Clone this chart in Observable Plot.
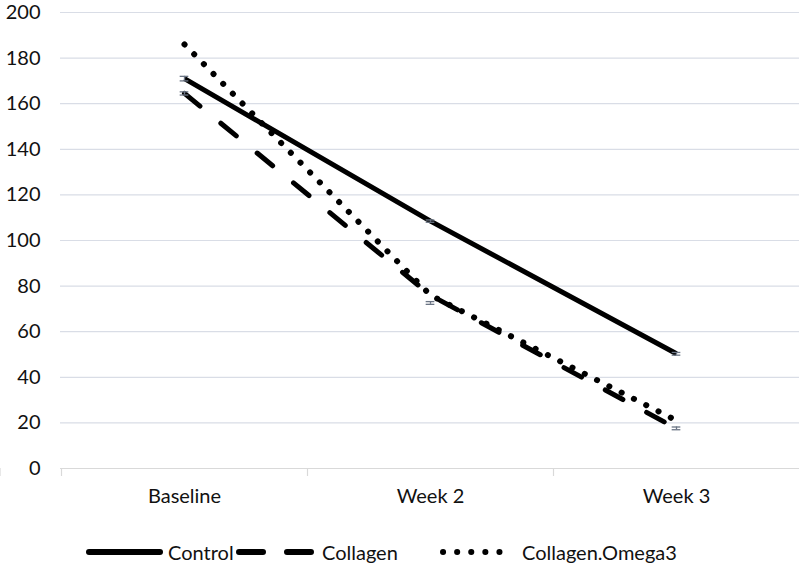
<!DOCTYPE html>
<html><head><meta charset="utf-8">
<script src="https://cdn.jsdelivr.net/npm/d3@7"></script>
<script src="https://cdn.jsdelivr.net/npm/@observablehq/plot@0.6"></script>
<style>
body{margin:0;background:#fff;font-family:Lato,"Open Sans",sans-serif;}
#legend{position:relative;height:44px;font-size:20px;color:#111;}
#legend .item{display:flex;align-items:center;position:absolute;top:0;height:44px;}
</style></head>
<body>
<div id="chart"></div>
<div id="legend"></div>
<script>
const categories = ["Baseline", "Week 2", "Week 3"];
const seriesNames = ["Control", "Collagen", "Collagen.Omega3"];
const controlValues = [171, 108.5, 50.3];
const collagenValues = [164.5, 76, 17.5];
const omegaValues = [186, 76, 21];
const errLow = [[170, 108, 49.7], [163.8, 72, 17], [null, null, null]];
const errHigh = [[172, 109, 50.9], [165.2, 73.2, 18.2], [null, null, null]];
const yTicks = [0, 20, 40, 60, 80, 100, 120, 140, 160, 180, 200];

const seriesValues = [controlValues, collagenValues, omegaValues];
const data = [];
seriesNames.forEach((s, i) => categories.forEach((c, j) => data.push({series: s, cat: c, value: seriesValues[i][j]})));
const errData = [];
seriesNames.forEach((s, i) => categories.forEach((c, j) => {
  if (errLow[i][j] != null) errData.push({series: s, cat: c, lo: errLow[i][j], hi: errHigh[i][j]});
}));

const W = 799, H = 530, ML = 60, MR = 0;
const bw = (W - ML - MR) / categories.length;
const dash = {"Control": null, "Collagen": "20 27", "Collagen.Omega3": "0.1 13.7"};
const errColor = "#6b7585";

const boundaryTicks = (index, scales, values, dimensions) => {
  const g = d3.create("svg:g");
  const bandW = scales.x.bandwidth ? scales.x.bandwidth : bw;
  const y0 = scales.y(0);
  const xs = categories.map(c => scales.x(c));
  xs.push(xs[xs.length - 1] + bandW);
  for (const x of xs) {
    g.append("line").attr("x1", x + 0.5).attr("x2", x + 0.5).attr("y1", y0).attr("y2", y0 + 8)
      .attr("stroke", "#d9d9d9").attr("stroke-width", 1.2);
  }
  return g.node();
};

const marks = [
  Plot.ruleY(yTicks.filter(t => t > 0), {stroke: "#d9dde6", strokeWidth: 1.2}),
  Plot.ruleY([0], {stroke: "#d9d9d9", strokeWidth: 1.2}),
  boundaryTicks
];
for (const s of seriesNames) {
  marks.push(Plot.line(data.filter(d => d.series === s), {
    x: "cat", y: "value", stroke: "#000", strokeWidth: s === "Collagen.Omega3" ? 6 : 5,
    strokeDasharray: dash[s], strokeLinecap: s === "Control" ? "butt" : "round"
  }));
}
marks.push(Plot.ruleX(errData, {x: "cat", y1: "lo", y2: "hi", stroke: errColor, strokeWidth: 1.3}));
marks.push(Plot.tickY(errData, {x: "cat", y: "lo", stroke: errColor, strokeWidth: 1.3, insetLeft: (bw - 9) / 2, insetRight: (bw - 9) / 2}));
marks.push(Plot.tickY(errData, {x: "cat", y: "hi", stroke: errColor, strokeWidth: 1.3, insetLeft: (bw - 9) / 2, insetRight: (bw - 9) / 2}));

const chart = Plot.plot({
  width: W, height: H,
  marginTop: 12, marginBottom: 62, marginLeft: ML, marginRight: MR,
  style: {fontFamily: "Lato, 'Open Sans', sans-serif", fontSize: "20px", color: "#111", background: "#fff", overflow: "visible"},
  x: {type: "band", domain: categories, padding: 0, tickSize: 0, tickPadding: 20, label: null},
  y: {domain: [0, 200], ticks: yTicks, tickSize: 0, tickPadding: 20, label: null},
  marks
});
document.getElementById("chart").appendChild(chart);

// legend
const legend = d3.select("#legend");
const items = [
  {name: "Control", x: 86, dash: null, w: 74, gap: "4px"},
  {name: "Collagen", x: 236, dash: "24 24", w: 80, gap: "2px"},
  {name: "Collagen.Omega3", x: 440, dash: "0.1 14", w: 60, gap: "18px"}
];
for (const it of items) {
  const d = legend.append("div").attr("class", "item").style("left", it.x + "px");
  const svg = d.append("svg").attr("width", it.w + 4).attr("height", 12);
  svg.append("line").attr("x1", 3).attr("x2", it.w).attr("y1", 6).attr("y2", 6)
    .attr("stroke", "#000").attr("stroke-width", 6).attr("stroke-linecap", "round")
    .attr("stroke-dasharray", it.dash);
  d.append("span").text(it.name).style("margin-left", it.gap);
}
</script>
</body></html>
